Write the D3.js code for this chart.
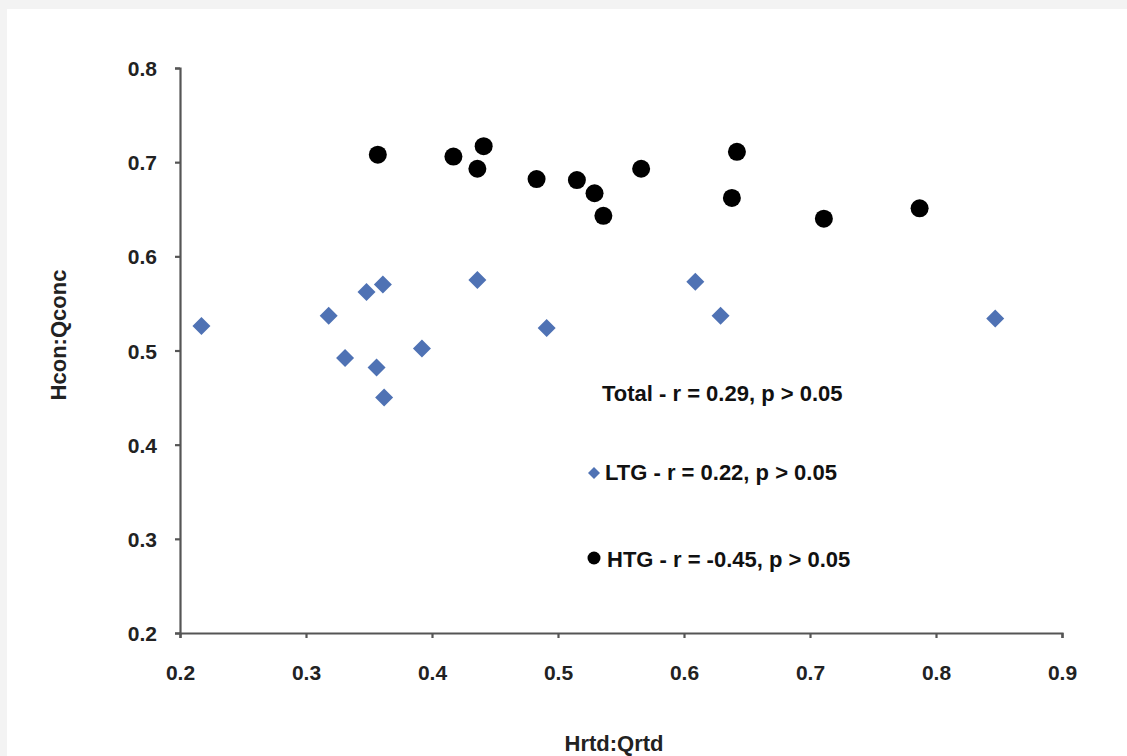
<!DOCTYPE html>
<html><head><meta charset="utf-8">
<script src="https://cdn.jsdelivr.net/npm/d3@7"></script>
<style>
html,body{margin:0;padding:0;background:#f3f3f3;}
svg{display:block;}
</style></head>
<body>
<svg id="c" width="1127" height="756"></svg>
<script>
const htgX = [0.357,0.417,0.441,0.436,0.483,0.515,0.529,0.536,0.566,0.642,0.638,0.711,0.787];
const htgY = [0.708,0.706,0.717,0.693,0.682,0.681,0.667,0.643,0.693,0.711,0.662,0.640,0.651];
const ltgX = [0.217,0.318,0.348,0.361,0.331,0.356,0.362,0.392,0.436,0.491,0.609,0.629,0.847];
const ltgY = [0.526,0.537,0.562,0.570,0.492,0.482,0.450,0.502,0.575,0.524,0.573,0.537,0.534];
const xTicks = [0.2,0.3,0.4,0.5,0.6,0.7,0.8,0.9];
const yTicks = [0.2,0.3,0.4,0.5,0.6,0.7,0.8];
const legendLines = ["Total - r = 0.29, p > 0.05","LTG - r = 0.22, p > 0.05","HTG - r = -0.45, p > 0.05"];
const xTitle = "Hrtd:Qrtd", yTitle = "Hcon:Qconc";

const svg = d3.select("#c");
svg.append("rect").attr("x",7).attr("y",9).attr("width",1120).attr("height",747).attr("fill","#fff");

const x = d3.scaleLinear().domain([0.2,0.9]).range([180,1062]);
const y = d3.scaleLinear().domain([0.2,0.8]).range([633,68]);
const font = "'Liberation Sans', Arial, sans-serif";
const axCol = "#555";

const xa = svg.append("g").attr("transform","translate(0,633)")
  .call(d3.axisBottom(x).tickValues(xTicks).tickFormat(d3.format(".1f")).tickSize(5).tickSizeOuter(5));
const ya = svg.append("g").attr("transform","translate(180,0)")
  .call(d3.axisLeft(y).tickValues(yTicks).tickFormat(d3.format(".1f")).tickSize(5).tickSizeOuter(5));
[xa,ya].forEach(g=>{
  g.selectAll("path,line").attr("stroke",axCol).attr("stroke-width",2.2);
  g.selectAll("text").attr("fill","#222").style("font-family",font).style("font-weight","bold").style("font-size","21px");
});
xa.selectAll("text").attr("dy",0).attr("y",47);
ya.selectAll("text").attr("x",-23).attr("dy","0.36em");

function diamondPath(s){ return `M0,${-s}L${s},0L0,${s}L${-s},0Z`; }

svg.append("g").selectAll("path").data(ltgX.map((v,i)=>[v,ltgY[i]])).join("path")
  .attr("d",diamondPath(9)).attr("transform",d=>`translate(${x(d[0])},${y(d[1])})`)
  .attr("fill","#4f72b4");
svg.append("g").selectAll("circle").data(htgX.map((v,i)=>[v,htgY[i]])).join("circle")
  .attr("cx",d=>x(d[0])).attr("cy",d=>y(d[1])).attr("r",9).attr("fill","#000");

const lg = svg.append("g").style("font-family",font).style("font-weight","bold").style("font-size","22px").attr("fill","#111");
lg.append("text").attr("x",602).attr("y",401).text(legendLines[0]);
lg.append("path").attr("d",diamondPath(6)).attr("transform","translate(594,473)").attr("fill","#4f72b4");
lg.append("text").attr("x",605).attr("y",480).text(legendLines[1]);
lg.append("circle").attr("cx",594).attr("cy",558).attr("r",6.5).attr("fill","#000");
lg.append("text").attr("x",607).attr("y",567).text(legendLines[2]);

svg.append("text").attr("x",614).attr("y",751).attr("text-anchor","middle")
  .style("font-family",font).style("font-weight","bold").style("font-size","22px").attr("fill","#222").text(xTitle);
svg.append("text").attr("transform","translate(66,335) rotate(-90)").attr("text-anchor","middle")
  .style("font-family",font).style("font-weight","bold").style("font-size","22px").attr("fill","#222").text(yTitle);
</script>
</body></html>
